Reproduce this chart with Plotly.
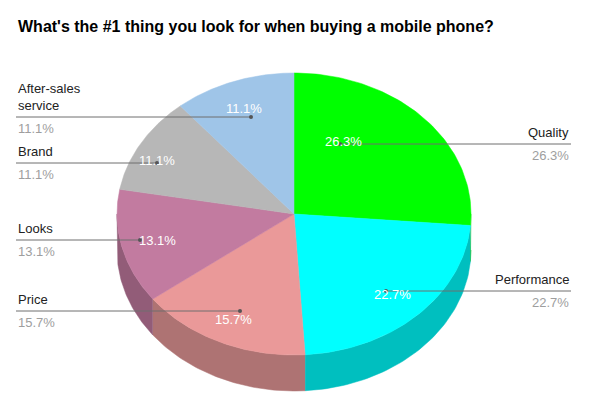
import numpy as np
import plotly.graph_objects as go

# data (clockwise from 12 o'clock)
categories = ["Quality", "Performance", "Price", "Looks", "Brand", "After-sales service"]
shares = [26.3, 22.7, 15.7, 13.1, 11.1, 11.1]
label_names = ["Quality", "Performance", "Price", "Looks", "Brand", "After-sales<br>service"]

# styling
top_colors = ["#00ff00", "#00ffff", "#ea9999", "#c27ba0", "#b7b7b7", "#9fc5e8"]
side_colors = ["#00bf00", "#00bfbf", "#ae7373", "#925c78", "#898989", "#779cb0"]

# 3d pie geometry, in page pixels
CX, CY = 294, 214
RX, RY = 177, 141
DEPTH = 36
PAGE_PAD = 8  # browser body margin

# where each slice's label sits: (inside text x, y), leader y, side of the chart
label_spots = [
    (343, 141, 144, "right"),
    (392, 294, 291, "right"),
    (233, 319, 311, "left"),
    (157, 240, 240, "left"),
    (157, 160, 163, "left"),
    (244, 108, 117, "left"),
]
dot_x = [340, 386, 240, 140, 157, 251]


def ellipse(theta, dy=0.0):
    return CX + RX * np.sin(theta), CY - RY * np.cos(theta) + dy


fig = go.Figure()

total = sum(shares)
bounds = np.concatenate([[0], np.cumsum(shares)]) / total * 2 * np.pi

# side walls first (only the front half is visible)
for i in range(len(shares)):
    a = max(bounds[i], np.pi / 2)
    b = min(bounds[i + 1], 3 * np.pi / 2)
    if b <= a:
        continue
    t = np.linspace(a, b, 60)
    x1, y1 = ellipse(t)
    x2, y2 = ellipse(t[::-1], DEPTH)
    fig.add_trace(go.Scatter(
        x=np.concatenate([x1, x2]), y=np.concatenate([y1, y2]),
        fill="toself", fillcolor=side_colors[i], mode="lines",
        line=dict(color=side_colors[i], width=0.5), hoverinfo="skip",
        showlegend=False))

# top faces
for i, name in enumerate(categories):
    t = np.linspace(bounds[i], bounds[i + 1], 80)
    x, y = ellipse(t)
    fig.add_trace(go.Scatter(
        x=np.concatenate([[CX], x, [CX]]), y=np.concatenate([[CY], y, [CY]]),
        fill="toself", fillcolor=top_colors[i], mode="lines",
        line=dict(color=top_colors[i], width=0.5),
        name=name, text=f"{name}: {shares[i]}%", hoverinfo="text",
        showlegend=False))

font = "Liberation Sans, Arial, sans-serif"

for i, (tx, ty, ly, side) in enumerate(label_spots):
    pct = f"{shares[i]:.1f}%"
    # inside value
    fig.add_annotation(x=tx, y=ty, text=pct, showarrow=False,
                       font=dict(family=font, size=13, color="white"))
    # leader line and dot
    if side == "left":
        x0, x1, anchor, lx = 16, dot_x[i], "left", 16
    else:
        x0, x1, anchor, lx = dot_x[i], 571, "right", 571
    fig.add_shape(type="line", x0=x0, x1=x1, y0=ly, y1=ly,
                  line=dict(color="#6f6f6f", width=1))
    fig.add_shape(type="circle", x0=dot_x[i] - 2, x1=dot_x[i] + 2,
                  y0=ly - 2, y1=ly + 2, fillcolor="#555555",
                  line=dict(width=0))
    # outside label
    fig.add_annotation(x=lx, y=ly - 2, text=label_names[i], showarrow=False,
                       xanchor=anchor, yanchor="bottom",
                       align=anchor,
                       font=dict(family=font, size=13, color="#222222"))
    fig.add_annotation(x=lx, y=ly + 2, text=pct, showarrow=False,
                       xanchor=anchor, yanchor="top",
                       font=dict(family=font, size=13, color="#9e9e9e"))

fig.add_annotation(
    x=16, y=26, xanchor="left", yanchor="middle", showarrow=False,
    text="<b>What's the #1 thing you look for when buying a mobile phone?</b>",
    font=dict(family=font, size=16, color="#000000"))

fig.update_layout(
    width=601, height=411,
    margin=dict(l=0, r=0, t=0, b=0),
    paper_bgcolor="white", plot_bgcolor="white",
    xaxis=dict(range=[PAGE_PAD, 601 + PAGE_PAD], visible=False, fixedrange=True),
    yaxis=dict(range=[411 + PAGE_PAD, PAGE_PAD], visible=False, fixedrange=True),
    showlegend=False,
)

fig.write_html("out.html", config={"displayModeBar": False})
